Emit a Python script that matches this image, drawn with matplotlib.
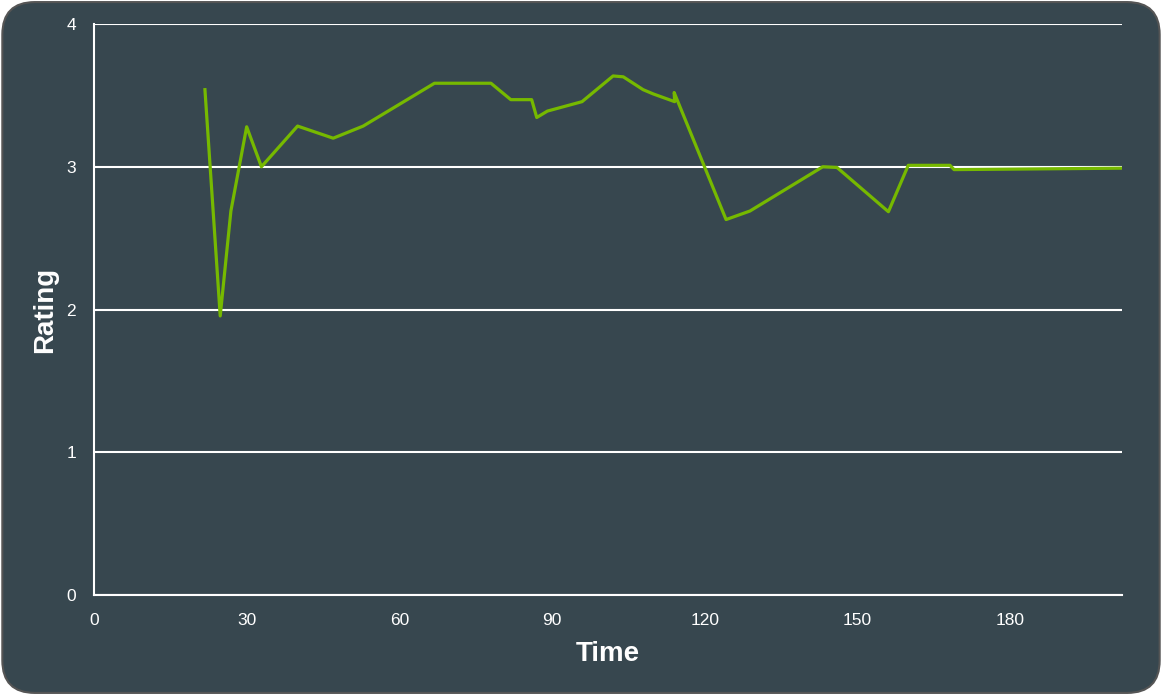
import matplotlib
matplotlib.use('Agg')
import matplotlib.pyplot as plt
from matplotlib.patches import FancyBboxPatch

# rating values
time = [21.8, 24.8, 26.9, 30.0, 32.9, 40.0, 47.0, 52.9, 66.9, 78.0, 81.9, 86.0,
        87.0, 89.1, 95.9, 102.0, 104.0, 107.9, 109.9, 114.1, 114.0, 124.2,
        128.9, 143.2, 146.0, 156.1, 160.0, 168.2, 169.0, 202.0]
rating = [3.54, 1.955, 2.69, 3.28, 3.0, 3.285, 3.2, 3.285, 3.585, 3.585, 3.47, 3.47,
          3.345, 3.39, 3.456, 3.636, 3.63, 3.54, 3.51, 3.456, 3.52, 2.63,
          2.69, 3.0, 2.995, 2.685, 3.01, 3.01, 2.98, 2.99]
xticks = [0, 30, 60, 90, 120, 150, 180]
yticks = [0, 1, 2, 3, 4]

bg = '#37474F'
plt.rcParams['font.family'] = ['Liberation Sans', 'DejaVu Sans']

fig = plt.figure(figsize=(11.62, 6.95), dpi=100)
fig.patch.set_facecolor('white')
# rounded card behind everything
card = FancyBboxPatch((0.002, 0.003), 0.996, 0.994,
                      boxstyle='round,pad=0,rounding_size=0.028',
                      transform=fig.transFigure, facecolor=bg,
                      edgecolor='#555555', linewidth=1.5, zorder=-10,
                      mutation_aspect=1162 / 695)
fig.patches.append(card)

ax = fig.add_axes([94 / 1162, 100 / 695, 1028 / 1162, 571 / 695])
ax.set_facecolor(bg)
ax.plot(time, rating, color='#76B900', linewidth=2.3, zorder=3)

ax.set_xlim(0, 202)
ax.set_ylim(0, 4)
ax.set_xticks(xticks)
ax.set_yticks(yticks)
ax.grid(axis='y', color='white', linewidth=1.5)
ax.set_axisbelow(True)
for s in ['top', 'right']:
    ax.spines[s].set_visible(False)
for s in ['left', 'bottom']:
    ax.spines[s].set_color('white')
    ax.spines[s].set_linewidth(1.5)
ax.tick_params(length=0, colors='white', labelsize=12.5)
ax.tick_params(axis='x', pad=13)
ax.tick_params(axis='y', pad=13)

ax.set_xlabel('Time', color='white', fontsize=20, fontweight='bold', labelpad=9)
ax.set_ylabel('Rating', color='white', fontsize=20, fontweight='bold', labelpad=6)

fig.savefig('out.png', dpi=100, facecolor=fig.get_facecolor())
